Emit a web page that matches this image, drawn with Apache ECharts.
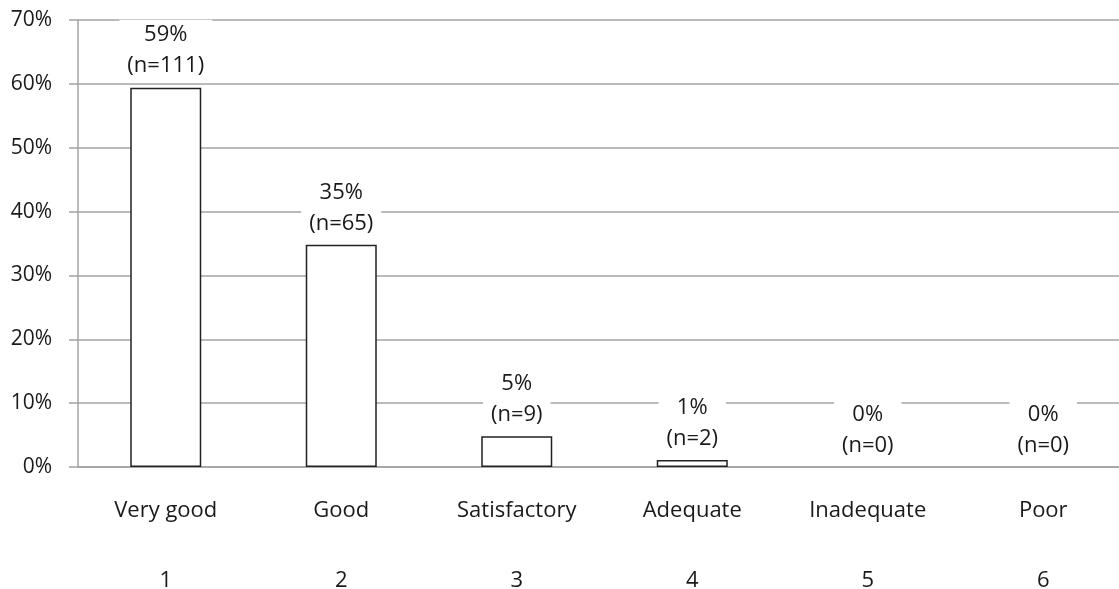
<!DOCTYPE html>
<html>
<head>
<meta charset="utf-8">
<script src="https://cdn.jsdelivr.net/npm/echarts@6/dist/echarts.min.js"></script>
<style>
  html, body { margin: 0; padding: 0; background: #ffffff; }
  #chart { width: 1119px; height: 589px; }
</style>
</head>
<body>
<div id="chart"></div>
<script>
// Ratings, their rank numbers, share of responses (%) and response counts
const categories = ['Very good', 'Good', 'Satisfactory', 'Adequate', 'Inadequate', 'Poor'];
const ranks = ['1', '2', '3', '4', '5', '6'];
const percents = [59.4, 34.8, 4.8, 1.1, 0, 0];
const counts = [111, 65, 9, 2, 0, 0];
const yTicks = { min: 0, max: 70, step: 10 };

const FONT = 'Open Sans';
const TEXT = '#1a1a1a';
const GRID_GRAY = '#a3a3a3';

// Empty categories get no outline so nothing is drawn on the baseline
const barData = percents.map((v) => (v === 0 ? { value: v, itemStyle: { borderWidth: 0 } } : v));

const chart = echarts.init(document.getElementById('chart'), null, { renderer: 'canvas' });

chart.setOption({
  backgroundColor: '#ffffff',
  animation: false,
  // the plot runs a little past the right edge of the canvas
  grid: {
    left: 78, width: 1053, top: 20, bottom: 122,
    containLabel: false,
    outerBoundsMode: 'none'
  },
  xAxis: [
    {
      type: 'category',
      data: categories,
      position: 'bottom',
      axisLine: { show: true, lineStyle: { color: GRID_GRAY, width: 1.5 } },
      axisTick: { show: false },
      axisLabel: { margin: 33, fontFamily: FONT, fontSize: 22, color: TEXT, interval: 0 }
    },
    {
      type: 'category',
      data: ranks,
      position: 'bottom',
      axisLine: { show: false },
      axisTick: { show: false },
      axisLabel: { margin: 103, fontFamily: FONT, fontSize: 22, color: TEXT, interval: 0 }
    }
  ],
  yAxis: {
    type: 'value',
    min: yTicks.min,
    max: yTicks.max,
    interval: yTicks.step,
    axisLine: { show: true, lineStyle: { color: GRID_GRAY, width: 1.5 } },
    axisTick: { show: true, length: 9, lineStyle: { color: GRID_GRAY, width: 1.5 } },
    splitLine: { show: true, lineStyle: { color: GRID_GRAY, width: 1.5 } },
    axisLabel: { formatter: '{value}%', margin: 26, fontFamily: FONT, fontSize: 21, color: TEXT }
  },
  series: [
    {
      type: 'bar',
      xAxisIndex: 0,
      data: barData,
      barWidth: 71,
      itemStyle: { color: '#ffffff', borderColor: '#222222', borderWidth: 1.5 },
      label: {
        show: true,
        position: 'top',
        distance: 6,
        fontFamily: FONT,
        fontSize: 22,
        lineHeight: 31,
        color: TEXT,
        align: 'center',
        backgroundColor: '#ffffff',
        padding: [0, 8, 0, 8],
        formatter: (p) => Math.round(p.value) + '%\n(n=' + counts[p.dataIndex] + ')'
      }
    }
  ]
});
</script>
</body>
</html>
